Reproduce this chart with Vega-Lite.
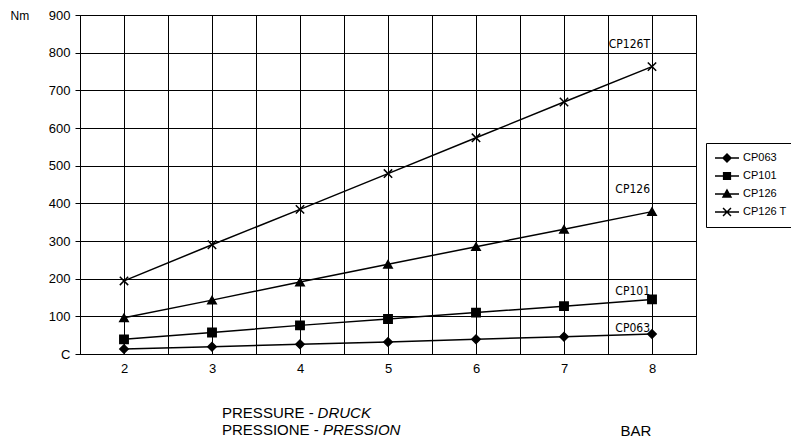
{
  "$schema": "https://vega.github.io/schema/vega-lite/v6.json",
  "width": 616,
  "height": 339,
  "padding": {"left": 80, "top": 15, "right": 95, "bottom": 85},
  "autosize": {"type": "none"},
  "background": "white",
  "config": {
    "font": "Liberation Sans",
    "view": {"stroke": "black", "strokeWidth": 1},
    "axis": {
      "domainColor": "black",
      "tickColor": "black",
      "gridColor": "black",
      "gridOpacity": 1,
      "gridWidth": 1,
      "labelColor": "black",
      "labelFont": "Liberation Sans",
      "labelFontSize": 13,
      "labelOverlap": false,
      "titleColor": "black",
      "titleFont": "Liberation Sans",
      "titleFontWeight": "normal"
    }
  },
  "data": {
    "values": [
      {"series": "CP063", "pressure": 2, "torque": 13},
      {"series": "CP063", "pressure": 3, "torque": 19},
      {"series": "CP063", "pressure": 4, "torque": 26},
      {"series": "CP063", "pressure": 5, "torque": 32},
      {"series": "CP063", "pressure": 6, "torque": 39},
      {"series": "CP063", "pressure": 7, "torque": 46},
      {"series": "CP063", "pressure": 8, "torque": 53},
      {"series": "CP101", "pressure": 2, "torque": 39},
      {"series": "CP101", "pressure": 3, "torque": 57},
      {"series": "CP101", "pressure": 4, "torque": 76},
      {"series": "CP101", "pressure": 5, "torque": 93},
      {"series": "CP101", "pressure": 6, "torque": 110},
      {"series": "CP101", "pressure": 7, "torque": 127},
      {"series": "CP101", "pressure": 8, "torque": 145},
      {"series": "CP126", "pressure": 2, "torque": 96},
      {"series": "CP126", "pressure": 3, "torque": 143},
      {"series": "CP126", "pressure": 4, "torque": 191},
      {"series": "CP126", "pressure": 5, "torque": 238},
      {"series": "CP126", "pressure": 6, "torque": 285},
      {"series": "CP126", "pressure": 7, "torque": 331},
      {"series": "CP126", "pressure": 8, "torque": 378},
      {"series": "CP126 T", "pressure": 2, "torque": 194},
      {"series": "CP126 T", "pressure": 3, "torque": 290},
      {"series": "CP126 T", "pressure": 4, "torque": 384},
      {"series": "CP126 T", "pressure": 5, "torque": 479},
      {"series": "CP126 T", "pressure": 6, "torque": 574},
      {"series": "CP126 T", "pressure": 7, "torque": 669},
      {"series": "CP126 T", "pressure": 8, "torque": 763}
    ]
  },
  "encoding": {
    "x": {
      "field": "pressure",
      "type": "quantitative",
      "scale": {"domain": [1.5, 8.5], "nice": false},
      "axis": {
        "values": [2, 2.5, 3, 3.5, 4, 4.5, 5, 5.5, 6, 6.5, 7, 7.5, 8, 8.5],
        "labelExpr": "datum.value % 1 == 0 ? datum.value : ''",
        "labelOverlap": false,
        "ticks": false,
        "labelPadding": 8,
        "grid": true,
        "title": "BAR",
        "titleFontSize": 15,
        "titleX": 540,
        "titleY": 81,
        "titleAlign": "left",
        "titleAnchor": null,
        "titleBaseline": "alphabetic"
      }
    },
    "y": {
      "field": "torque",
      "type": "quantitative",
      "scale": {"domain": [0, 900], "nice": false},
      "axis": {
        "values": [0, 100, 200, 300, 400, 500, 600, 700, 800, 900],
        "labelExpr": "datum.value == 0 ? 'C' : datum.value",
        "labelOverlap": false,
        "tickSize": 5,
        "labelPadding": 5,
        "grid": true,
        "title": "Nm",
        "titleAngle": 0,
        "titleX": -70,
        "titleY": 0,
        "titleAlign": "left",
        "titleBaseline": "middle",
        "titleFontSize": 12
      }
    }
  },
  "layer": [
    {
      "mark": {"type": "line", "color": "black", "strokeWidth": 1.5},
      "encoding": {"detail": {"field": "series"}}
    },
    {
      "mark": {"type": "point", "filled": true, "fill": "black", "stroke": "black", "strokeWidth": 1.5, "opacity": 1},
      "encoding": {
        "shape": {
          "field": "series",
          "type": "nominal",
          "scale": {
            "domain": ["CP063", "CP101", "CP126", "CP126 T"],
            "range": ["diamond", "square", "triangle-up", "M-1,-1L1,1M-1,1L1,-1"]
          },
          "legend": null
        },
        "size": {"value": 70}
      }
    },
    {
      "mark": {"type": "point", "filled": false, "fill": "black", "stroke": "black", "strokeWidth": 1.5},
      "encoding": {
        "shape": {
          "field": "series",
          "type": "nominal",
          "scale": {
            "domain": ["CP063", "CP101", "CP126", "CP126 T"],
            "range": [
              "M-1,0H1M0,-0.33L0.33,0L0,0.33L-0.33,0Z",
              "M-1,0H1M-0.28,-0.28H0.28V0.28H-0.28Z",
              "M-1,0H1M0,-0.33L0.33,0.25L-0.33,0.25Z",
              "M-1,0H1M-0.33,-0.33L0.33,0.33M-0.33,0.33L0.33,-0.33"
            ]
          },
          "legend": {
            "title": null,
            "orient": "none",
            "legendX": 626,
            "legendY": 128,
            "strokeColor": "black",
            "padding": 8,
            "symbolSize": 576,
            "symbolStrokeWidth": 1.5,
            "symbolOpacity": 1,
            "labelFontSize": 11,
            "labelColor": "black",
            "labelOffset": 3,
            "clipHeight": 14,
            "rowPadding": 4
          }
        },
        "size": {"value": 0}
      }
    },
    {
      "data": {"values": [{"label": "CP126T", "pressure": 8, "torque": 812}]},
      "mark": {"type": "text", "font": "DejaVu Sans Condensed", "fontSize": 12, "align": "right", "baseline": "alphabetic", "dx": -2, "fill": "black"},
      "encoding": {"text": {"field": "label"}}
    },
    {
      "data": {"values": [{"label": "CP126", "pressure": 8, "torque": 427}]},
      "mark": {"type": "text", "font": "DejaVu Sans Condensed", "fontSize": 12, "align": "right", "baseline": "alphabetic", "dx": -2, "fill": "black"},
      "encoding": {"text": {"field": "label"}}
    },
    {
      "data": {"values": [{"label": "CP101", "pressure": 8, "torque": 157}]},
      "mark": {"type": "text", "font": "DejaVu Sans Condensed", "fontSize": 12, "align": "right", "baseline": "alphabetic", "dx": -2, "fill": "black"},
      "encoding": {"text": {"field": "label"}}
    },
    {
      "data": {"values": [{"label": "CP063", "pressure": 8, "torque": 58}]},
      "mark": {"type": "text", "font": "DejaVu Sans Condensed", "fontSize": 12, "align": "right", "baseline": "alphabetic", "dx": -2, "fill": "black"},
      "encoding": {"text": {"field": "label"}}
    },
    {
      "data": {"values": [{"label": "PRESSURE - ", "pressure": 3.114, "torque": -170}]},
      "mark": {"type": "text", "fontSize": 15, "align": "left", "baseline": "alphabetic", "fill": "black"},
      "encoding": {"text": {"field": "label"}}
    },
    {
      "data": {"values": [{"label": "DRUCK", "pressure": 4.2, "torque": -170}]},
      "mark": {"type": "text", "fontSize": 15, "fontStyle": "italic", "align": "left", "baseline": "alphabetic", "fill": "black"},
      "encoding": {"text": {"field": "label"}}
    },
    {
      "data": {"values": [{"label": "PRESSIONE - ", "pressure": 3.114, "torque": -215}]},
      "mark": {"type": "text", "fontSize": 15, "align": "left", "baseline": "alphabetic", "fill": "black"},
      "encoding": {"text": {"field": "label"}}
    },
    {
      "data": {"values": [{"label": "PRESSION", "pressure": 4.26, "torque": -215}]},
      "mark": {"type": "text", "fontSize": 15, "fontStyle": "italic", "align": "left", "baseline": "alphabetic", "fill": "black"},
      "encoding": {"text": {"field": "label"}}
    }
  ],
  "resolve": {"scale": {"shape": "independent"}}
}
